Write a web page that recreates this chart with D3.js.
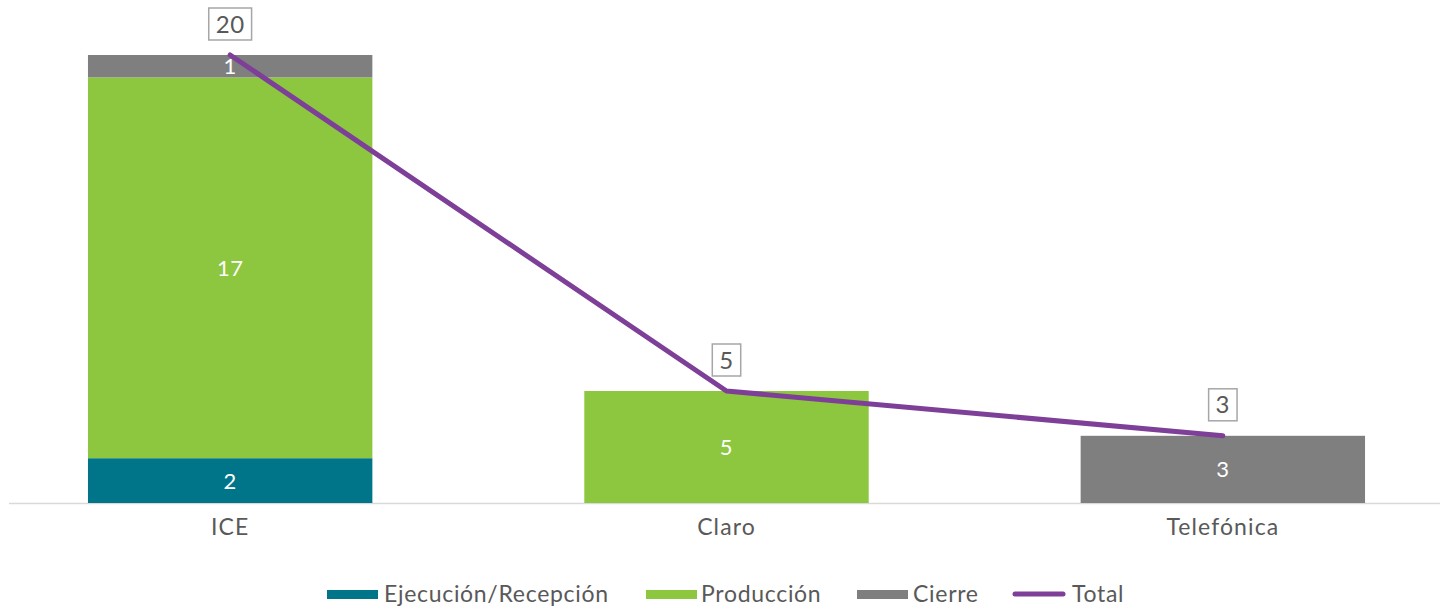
<!DOCTYPE html>
<html><head><meta charset="utf-8">
<script src="https://cdn.jsdelivr.net/npm/d3@7"></script>
<style>html,body{margin:0;padding:0;background:#fff;}svg{display:block;font-family:Lato, "Noto Sans", sans-serif;}</style>
</head><body>
<svg id="chart" width="1447" height="609"></svg>
<script>
const categories = ["ICE", "Claro", "Telefónica"];
const seriesNames = ["Ejecución/Recepción", "Producción", "Cierre"];
const ejecucion = [2, 0, 0];
const produccion = [17, 5, 0];
const cierre = [1, 0, 3];
const total = [20, 5, 3];
const colors = ["#00758A", "#8DC63F", "#7F7F7F"];
const lineColor = "#7E3F98";

const svg = d3.select("#chart");
const x = d3.scaleBand().domain(categories).range([-18, 1471]).paddingInner(0.427).paddingOuter(0.2135);
const y = d3.scaleLinear().domain([0, 20]).range([503, 55]);

const rows = categories.map((c, i) => ({cat: c, s0: ejecucion[i], s1: produccion[i], s2: cierre[i]}));
const stack = d3.stack().keys(["s0", "s1", "s2"])(rows);

// axis line
svg.append("line").attr("x1", 9).attr("x2", 1440).attr("y1", 503.5).attr("y2", 503.5)
  .attr("stroke", "#D9D9D9").attr("stroke-width", 1.5);

stack.forEach((layer, k) => {
  const g = svg.append("g");
  layer.forEach((d, i) => {
    const v = d[1] - d[0];
    if (v <= 0) return;
    g.append("rect").attr("x", x(categories[i])).attr("width", x.bandwidth())
      .attr("y", y(d[1])).attr("height", y(d[0]) - y(d[1])).attr("fill", colors[k]);
    g.append("text").attr("x", x(categories[i]) + x.bandwidth() / 2)
      .attr("y", (y(d[0]) + y(d[1])) / 2).attr("dy", "0.36em")
      .attr("text-anchor", "middle").attr("fill", "#fff").attr("font-size", 22)
      .attr("letter-spacing", 0.5).text(v);
  });
});

// line
const line = d3.line().x((d, i) => x(categories[i]) + x.bandwidth() / 2).y(d => y(d));
svg.append("path").datum(total).attr("d", line).attr("fill", "none")
  .attr("stroke", lineColor).attr("stroke-width", 5).attr("stroke-linecap", "round").attr("stroke-linejoin", "round");

// boxed labels
total.forEach((v, i) => {
  const cx = x(categories[i]) + x.bandwidth() / 2;
  const cy = y(v) - 31;
  const g = svg.append("g");
  const r = g.append("rect").attr("fill", "#fff").attr("stroke", "#A6A6A6").attr("stroke-width", 1.5);
  const t = g.append("text").attr("x", cx).attr("y", cy).attr("dy", "0.36em")
    .attr("text-anchor", "middle").attr("fill", "#595959").attr("font-size", 24)
    .attr("letter-spacing", 0.5).text(v);
  const bb = t.node().getBBox();
  r.attr("x", cx - bb.width / 2 - 7).attr("y", cy - 16)
    .attr("width", bb.width + 14).attr("height", 32);
});

// x labels
categories.forEach(c => {
  svg.append("text").attr("x", x(c) + x.bandwidth() / 2).attr("y", 527).attr("dy", "0.36em")
    .attr("text-anchor", "middle").attr("fill", "#595959").attr("font-size", 23)
    .attr("letter-spacing", 1.1).text(c);
});

// legend
const legendItems = [
  {name: seriesNames[0], color: colors[0], type: "rect", sx: 327, tx: 384},
  {name: seriesNames[1], color: colors[1], type: "rect", sx: 646, tx: 701},
  {name: seriesNames[2], color: colors[2], type: "rect", sx: 857, tx: 913},
  {name: "Total", color: lineColor, type: "line", sx: 1013, tx: 1072}
];
const ly = 594;
legendItems.forEach(it => {
  if (it.type === "rect") {
    svg.append("rect").attr("x", it.sx).attr("y", ly - 4).attr("width", 51).attr("height", 9).attr("fill", it.color);
  } else {
    svg.append("line").attr("x1", it.sx + 2).attr("x2", it.sx + 50).attr("y1", ly).attr("y2", ly)
      .attr("stroke", it.color).attr("stroke-width", 5).attr("stroke-linecap", "round");
  }
  svg.append("text").attr("x", it.tx).attr("y", ly).attr("dy", "0.36em").attr("fill", "#595959")
    .attr("font-size", 23).attr("letter-spacing", 0.7).text(it.name);
});
</script>
</body></html>
